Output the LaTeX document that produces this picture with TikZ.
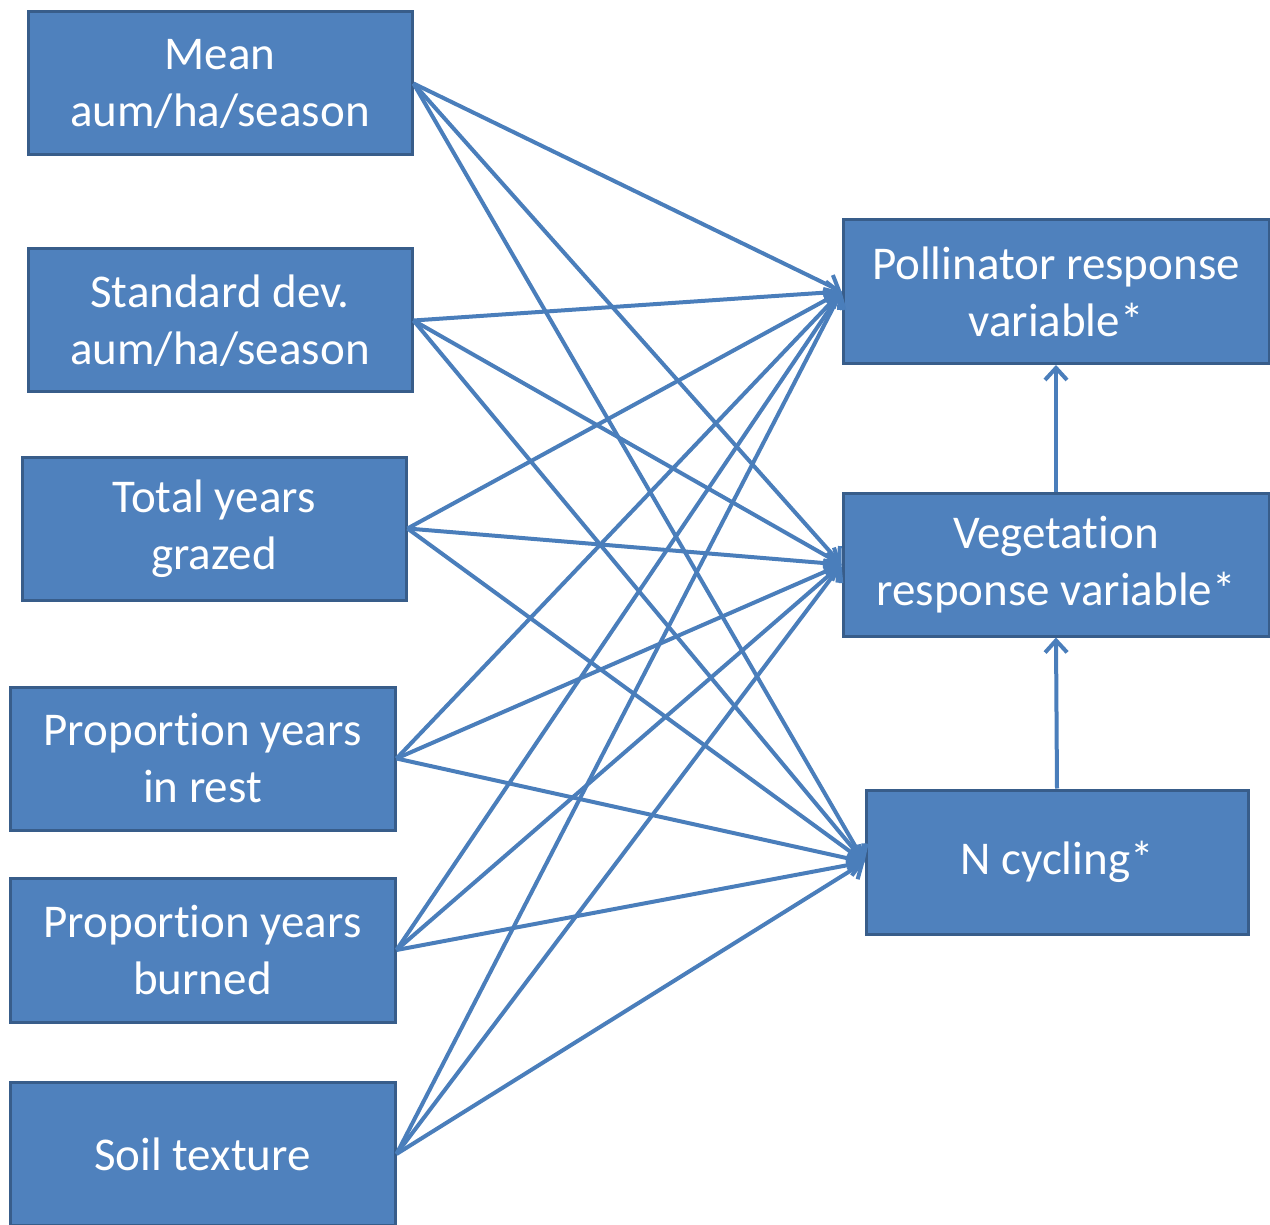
\documentclass[tikz,border=0pt]{standalone}
\usepackage{fontspec}
\setmainfont{Carlito}[Ligatures=NoCommon]
\usetikzlibrary{arrows.meta}
\definecolor{boxfill}{HTML}{4F81BD}
\definecolor{boxline}{HTML}{385D8A}
\definecolor{arrowc}{HTML}{4A7EBB}
\begin{document}
\begin{tikzpicture}[x=0.5pt,y=-0.5pt,
  box/.style={draw=boxline, line width=1.5pt, fill=boxfill, text=white,
    align=center, inner sep=0pt, font=\fontsize{23.5}{28.5}\selectfont},
  conn/.style={draw=arrowc, line width=2pt,
    -{Straight Barb[length=6pt,width=11pt,line width=2pt]}}]
\useasboundingbox (0,0) rectangle (1270,1225);
\node[box, minimum width=192pt, minimum height=71.5pt] (m) at (220,83.5) {Mean\\aum/ha/season};
\node[box, minimum width=192pt, minimum height=71.5pt] (s) at (220,320.5) {Standard dev.\\aum/ha/season};
\node[box, minimum width=192pt, minimum height=71.5pt] (t) at (214,528.5) {Total years\\grazed};
\node[box, minimum width=192.5pt, minimum height=71.5pt] (r) at (202.5,758.5) {Proportion years\\in rest};
\node[box, minimum width=192.5pt, minimum height=72pt] (b) at (202.5,950) {Proportion years\\burned};
\node[box, minimum width=192.5pt, minimum height=71.5pt] (so) at (202.5,1154) {Soil texture};
\node[box, minimum width=213pt, minimum height=72pt] (P) at (1056,291.5) {Pollinator response\\variable*};
\node[box, minimum width=213pt, minimum height=71.5pt] (V) at (1056,564.5) {Vegetation\\response variable*};
\node[box, minimum width=191pt, minimum height=72pt] (N) at (1057,862) {N cycling*};
\foreach \a in {m,s,t,r,b,so}
  \foreach \b in {P,V,N}
    \draw[conn] (\a.east) -- (\b.west);
\draw[conn] (N.north) -- (V.south);
\draw[conn] (V.north) -- (P.south);
\end{tikzpicture}
\end{document}
